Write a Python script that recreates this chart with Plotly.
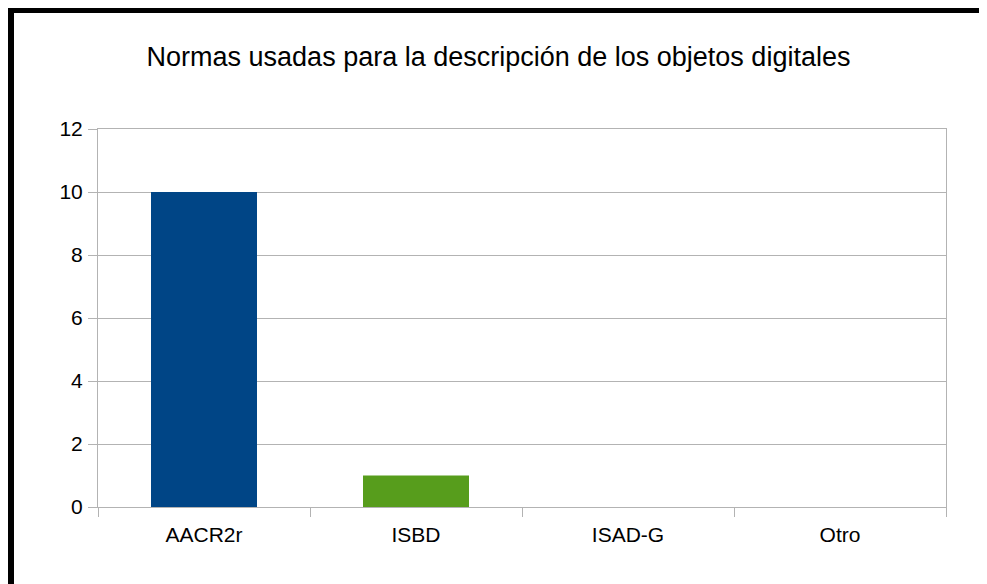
import plotly.graph_objects as go

categories = ["AACR2r", "ISBD", "ISAD-G", "Otro"]
values = [10, 1, 0, 0]
bar_colors = ["#004586", "#579d1c", "#ffd320", "#ff420e"]

title_text = "Normas usadas para la descripción de los objetos digitales"

# page body has an 8px margin, so the figure starts at (8, 8) of the window
W, H = 979, 576
ml, mr, mt, mb = 90, 41, 121, 77
pw, ph = W - ml - mr, H - mt - mb

def px_x(x):
    return (x - ml) / pw

def px_y(y):
    return (H - mb - y) / ph

fig = go.Figure(go.Bar(
    x=categories, y=values, width=0.5,
    marker=dict(color=bar_colors, line=dict(width=0)),
))

grid = "#b3b3b3"
fig.update_layout(
    width=W, height=H,
    margin=dict(l=ml, r=mr, t=mt, b=mb),
    paper_bgcolor="white", plot_bgcolor="white",
    font=dict(family="Liberation Sans, Arial, sans-serif", color="black", size=21),
    title=dict(text=title_text, x=490.5 / W, xanchor="center",
               y=1 - 49 / H, yanchor="middle", yref="container",
               font=dict(size=27, color="black")),
    showlegend=False,
)
fig.update_yaxes(range=[0, 12], dtick=2, showgrid=True, gridcolor=grid, gridwidth=1,
                 zeroline=False, showline=True, linecolor=grid, linewidth=1, mirror=True,
                 ticks="outside", ticklen=9, tickcolor=grid, tickfont=dict(size=21),
                 ticklabelstandoff=1)
fig.update_xaxes(showgrid=False, showline=True, linecolor=grid, linewidth=1, mirror=True,
                 ticks="outside", ticklen=9, tickcolor=grid, tickson="boundaries",
                 tickfont=dict(size=21), ticklabelstandoff=9)

fig.add_shape(type="rect", xref="paper", yref="paper",
              x0=px_x(3), x1=px_x(980), y0=px_y(580), y1=px_y(2),
              line=dict(color="black", width=6), fillcolor="rgba(0,0,0,0)", layer="above")

fig.write_html("out.html")
